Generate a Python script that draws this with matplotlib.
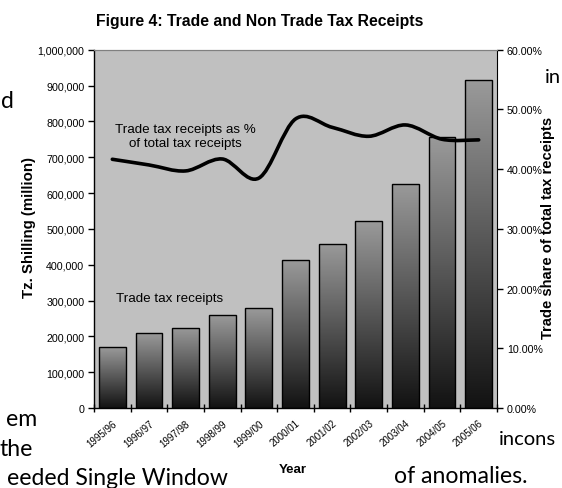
import numpy as np
import matplotlib
matplotlib.use("Agg")
import matplotlib.pyplot as plt
from matplotlib.path import Path
from matplotlib.patches import PathPatch
from matplotlib.colors import LinearSegmentedColormap
from matplotlib.ticker import FuncFormatter, MultipleLocator

plt.rcParams['font.family'] = ['Liberation Sans', 'DejaVu Sans']

years = ["1995/96", "1996/97", "1997/98", "1998/99", "1999/00", "2000/01",
         "2001/02", "2002/03", "2003/04", "2004/05", "2005/06"]
trade_receipts = [169400, 209300, 224000, 259000, 279000, 413000,
                  458000, 521000, 626000, 755000, 915000]
trade_share = [41.65, 40.7, 39.7, 41.7, 38.5, 48.4, 47.0, 45.5, 47.4, 45.0, 44.9]

fig = plt.figure(figsize=(5.62, 4.89), dpi=100)
ax = fig.add_axes([94/562, 80/489, 403/562, 358.3/489])
ax.set_facecolor("#c0c0c0")

# bars with vertical grey-to-black fill
cmap = LinearSegmentedColormap.from_list("bar", ["#121212", "#9a9a9a"])
grad = np.linspace(0, 1, 256).reshape(-1, 1)
xs = np.arange(len(years))
w = 0.73
bars = ax.bar(xs, trade_receipts, width=w, facecolor="none",
              edgecolor="black", linewidth=1.0, zorder=3)
for b in bars:
    im = ax.imshow(grad, cmap=cmap, origin="lower", aspect="auto",
                   extent=[b.get_x(), b.get_x() + b.get_width(), 0, b.get_height()],
                   zorder=2)
    im.set_clip_path(b)

ax.set_xlim(-0.5, len(years) - 0.5)
ax.set_ylim(0, 1000000)
ax.yaxis.set_major_locator(MultipleLocator(100000))
ax.yaxis.set_major_formatter(FuncFormatter(lambda v, p: f"{int(v):,}"))
ax.tick_params(axis="y", direction="out", length=4, width=1, labelsize=7.7, pad=3)

ax.set_xticks(np.arange(-0.5, len(years), 1.0))
ax.set_xticklabels([])
ax.tick_params(axis="x", which="major", direction="inout", length=6, width=1)
ax.set_xticks(xs, minor=True)
ax.set_xticklabels(years, minor=True, rotation=40, ha="right", va="top",
                   rotation_mode="anchor", fontsize=7)
ax.tick_params(axis="x", which="minor", length=0, pad=7)

for s in ["left", "bottom"]:
    ax.spines[s].set_color("black")
    ax.spines[s].set_linewidth(1)
ax.spines["top"].set_color("#808080")
ax.spines["right"].set_visible(False)

# share of trade tax, smoothed line on the right axis
ax2 = ax.twinx()
ax2.set_ylim(0, 60)
ax2.yaxis.set_major_locator(MultipleLocator(10))
ax2.yaxis.set_major_formatter(FuncFormatter(lambda v, p: f"{v:.2f}%"))
ax2.tick_params(axis="y", direction="out", length=4, width=1, labelsize=7.7, pad=3)
ax2.spines["right"].set_color("black")
ax2.spines["top"].set_color("#808080")
ax2.spines["left"].set_visible(False)
ax2.spines["bottom"].set_visible(False)

pts = np.column_stack([xs, trade_share]).astype(float)
ext = np.vstack([pts[0], pts, pts[-1]])
verts = [tuple(pts[0])]
codes = [Path.MOVETO]
for i in range(1, len(ext) - 2):
    p0, p1, p2, p3 = ext[i - 1], ext[i], ext[i + 1], ext[i + 2]
    verts += [tuple(p1 + (p2 - p0) / 6), tuple(p2 - (p3 - p1) / 6), tuple(p2)]
    codes += [Path.CURVE4] * 3
ax2.add_patch(PathPatch(Path(verts, codes), facecolor="none", edgecolor="black",
                        linewidth=2.6, capstyle="round", zorder=5))

ax.text(2.0, 759000, "Trade tax receipts as %\nof total tax receipts",
        ha="center", va="center", fontsize=9.6, zorder=6, linespacing=1.15)
ax.text(1.57, 308000, "Trade tax receipts", ha="center", va="center",
        fontsize=9.6, zorder=6)

fig.text(260/562, 1 - 21.5/489, "Figure 4: Trade and Non Trade Tax Receipts",
         ha="center", va="center", fontsize=11.3, fontweight="bold")
fig.text(29/562, 1 - 228/489, "Tz. Shilling (million)", rotation=90,
         ha="center", va="center", fontsize=10.8, fontweight="bold")
fig.text(548/562, 1 - 228/489, "Trade share of total tax receipts", rotation=90,
         ha="center", va="center", fontsize=10.6, fontweight="bold")
fig.text(293/562, 1 - 470/489, "Year", ha="center", va="center",
         fontsize=9.5, fontweight="bold")

# surrounding page text
doc = dict(fontsize=16.6, family=["Lato", "DejaVu Sans"], color="black")
fig.text(14/562, 1 - 108/489, "d", ha="right", va="baseline", **doc)
fig.text(37/562, 1 - 426/489, "em", ha="right", va="baseline", **doc)
fig.text(33/562, 1 - 456/489, "the", ha="right", va="baseline", **doc)
fig.text(228/562, 1 - 485/489, "eeded Single Window", ha="right", va="baseline", **doc)
fig.text(527/562, 1 - 483/489, "of anomalies.", ha="right", va="baseline", **doc)
side = dict(fontsize=14.5, family=["Lato", "DejaVu Sans"], color="black")
fig.text(545/562, 1 - 83/489, "in", ha="left", va="baseline", **side)
fig.text(499/562, 1 - 445/489, "incons", ha="left", va="baseline", **side)

fig.savefig("out.png", dpi=100)
